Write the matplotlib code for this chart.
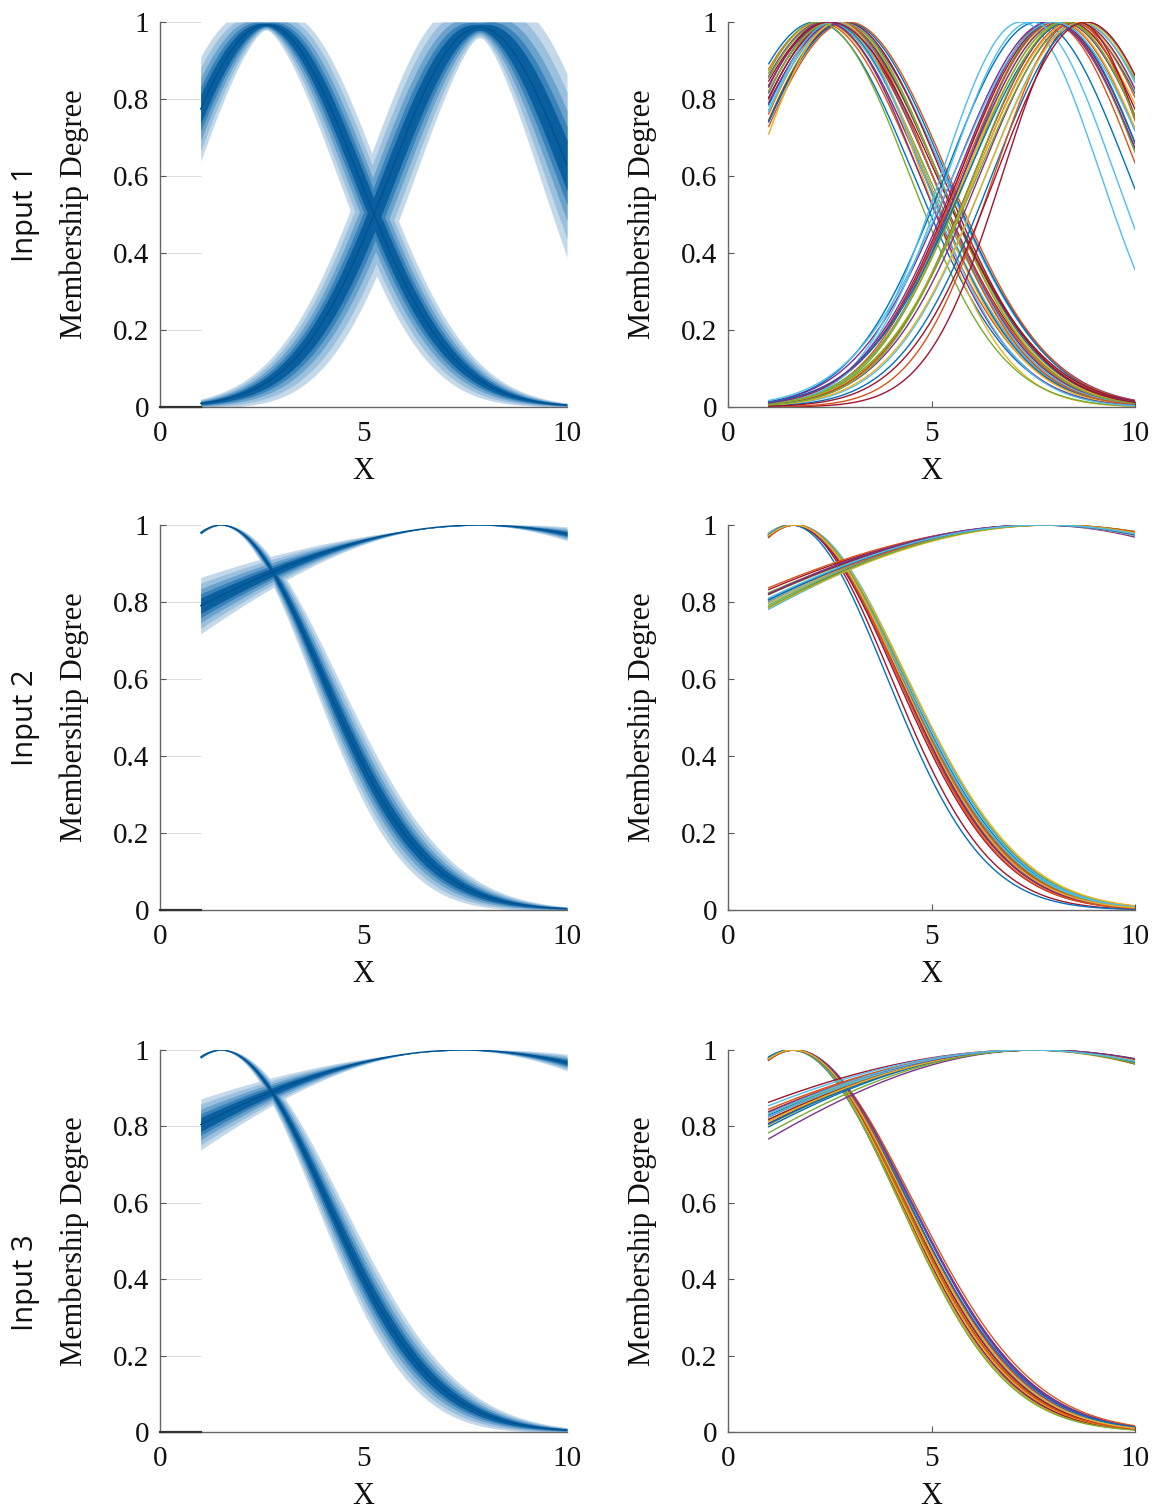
import numpy as np
import matplotlib
matplotlib.use("Agg")
import matplotlib.pyplot as plt

# ---------------- data: gaussian membership functions (center, sigma) ----------------
# left column: samples behind the fan bands (mean +/- k*std)
L1_mf1_c = [2.15, 2.25, 2.35, 2.45, 2.50, 2.60, 2.60, 2.70, 2.75, 2.85, 2.95, 3.05]
L1_mf1_s = [2.30, 2.15, 2.40, 2.20, 2.35, 2.10, 2.40, 2.25, 2.15, 2.35, 2.20, 2.25]
L1_mf2_c = [7.25, 7.40, 7.55, 7.65, 7.75, 7.85, 7.90, 8.00, 8.10, 8.25, 8.35, 8.50]
L1_mf2_s = [2.15, 2.00, 2.35, 2.05, 2.35, 2.10, 2.30, 2.05, 2.45, 2.15, 2.40, 2.30]

L2_mf1_c = [1.45, 1.50, 1.55, 1.48, 1.52, 1.50, 1.47, 1.53, 1.50, 1.55, 1.45, 1.50]
L2_mf1_s = [2.25, 2.30, 2.35, 2.45, 2.50, 2.50, 2.55, 2.65, 2.70, 2.75, 2.45, 2.55]
L2_mf2_c = [7.60, 7.70, 7.80, 7.85, 7.90, 7.90, 7.95, 8.00, 8.10, 8.20, 7.75, 8.05]
L2_mf2_s = [8.0, 8.6, 9.2, 9.7, 10.1, 10.3, 10.5, 11.0, 11.6, 12.4, 9.9, 11.1]

L3_mf1_c = [1.45, 1.50, 1.55, 1.48, 1.52, 1.50, 1.47, 1.53, 1.50, 1.55, 1.45, 1.50]
L3_mf1_s = [2.35, 2.40, 2.45, 2.55, 2.60, 2.60, 2.65, 2.75, 2.80, 2.85, 2.55, 2.65]
L3_mf2_c = [7.25, 7.35, 7.40, 7.45, 7.50, 7.50, 7.55, 7.60, 7.65, 7.75, 7.40, 7.60]
L3_mf2_s = [8.0, 8.5, 9.0, 9.5, 9.9, 10.1, 10.3, 10.8, 11.4, 12.2, 9.7, 10.6]

# right column: individual sampled membership functions
R1_mf1_c = [2.15, 2.25, 2.30, 2.35, 2.40, 2.45, 2.50, 2.50, 2.55, 2.55, 2.60, 2.60, 2.65, 2.65,
            2.70, 2.70, 2.75, 2.75, 2.80, 2.80, 2.85, 2.90, 2.95, 2.70, 2.40, 2.20, 2.60, 2.50]
R1_mf1_s = [2.40, 2.45, 2.50, 2.45, 2.50, 2.40, 2.50, 2.35, 2.45, 2.30, 2.40, 2.55, 2.35, 2.50,
            2.45, 2.30, 2.40, 2.55, 2.35, 2.50, 2.40, 2.45, 2.45, 2.05, 2.30, 2.25, 2.20, 2.60]
R1_mf2_c = [7.60, 7.90, 8.30, 7.90, 8.00, 7.20, 8.00, 8.05, 8.10, 8.15, 8.20, 8.25, 7.45, 8.35,
            8.40, 8.45, 8.50, 8.55, 8.60, 8.65, 8.60, 8.75, 8.50, 8.70, 7.95, 8.30, 8.00, 8.80]
R1_mf2_s = [2.25, 2.20, 2.45, 2.35, 2.20, 1.95, 2.30, 2.25, 2.35, 2.30, 2.40, 2.35, 2.05, 2.30,
            2.50, 2.35, 2.40, 2.35, 2.45, 2.30, 1.85, 2.25, 1.95, 2.35, 2.30, 2.25, 2.45, 2.20]

R2_mf1_c = [1.55, 1.57, 1.60, 1.62, 1.58, 1.63, 1.65, 1.59, 1.61, 1.56, 1.64, 1.60,
            1.67, 1.58, 1.62, 1.65, 1.59, 1.61, 1.63, 1.57, 1.60, 1.55, 1.65, 1.62]
R2_mf1_s = [2.65, 2.60, 2.70, 2.75, 2.63, 2.67, 2.57, 2.73, 2.65, 2.69, 2.61, 2.77,
            2.71, 2.55, 2.66, 2.64, 2.80, 2.59, 2.68, 2.72, 2.40, 2.35, 2.53, 2.62]
R2_mf2_c = [7.60, 7.70, 7.75, 7.80, 7.85, 7.90, 7.65, 7.80, 7.95, 7.70, 7.85, 7.75,
            8.00, 7.80, 7.60, 7.90, 7.75, 7.85, 7.70, 7.80, 7.95, 7.65, 7.85, 7.75]
R2_mf2_s = [9.5, 9.8, 10.0, 10.2, 10.4, 10.6, 9.9, 10.8, 11.0, 10.1, 11.3, 10.3,
            10.7, 9.7, 10.5, 11.1, 9.6, 10.9, 10.2, 11.4, 10.0, 10.6, 9.9, 10.4]

R3_mf1_c = [1.55, 1.58, 1.60, 1.62, 1.57, 1.65, 1.60, 1.56, 1.63, 1.59, 1.61, 1.54,
            1.66, 1.58, 1.60, 1.62, 1.56, 1.64, 1.59, 1.57, 1.61, 1.55, 1.63, 1.60]
R3_mf1_s = [2.65, 2.70, 2.75, 2.80, 2.72, 2.85, 2.68, 2.90, 2.78, 2.62, 2.88, 2.74,
            2.82, 2.66, 2.76, 2.92, 2.70, 2.84, 2.60, 2.79, 2.73, 2.86, 2.69, 2.77]
R3_mf2_c = [7.40, 7.45, 7.50, 7.55, 7.60, 7.50, 7.35, 7.45, 7.65, 7.55, 7.40, 7.50,
            7.60, 7.45, 7.55, 7.50, 7.40, 7.65, 7.50, 7.45, 7.55, 7.60, 7.50, 7.40]
R3_mf2_s = [9.8, 10.2, 10.5, 10.0, 10.8, 11.2, 9.6, 10.4, 11.0, 10.6, 11.8, 9.9,
            10.3, 10.7, 9.0, 10.1, 11.4, 10.5, 9.7, 10.9, 10.2, 11.1, 9.3, 10.6]

inputs = ['Input 1', 'Input 2', 'Input 3']
left_sets = [[(L1_mf1_c, L1_mf1_s), (L1_mf2_c, L1_mf2_s)],
             [(L2_mf1_c, L2_mf1_s), (L2_mf2_c, L2_mf2_s)],
             [(L3_mf1_c, L3_mf1_s), (L3_mf2_c, L3_mf2_s)]]
right_sets = [[(R1_mf1_c, R1_mf1_s), (R1_mf2_c, R1_mf2_s)],
              [(R2_mf1_c, R2_mf1_s), (R2_mf2_c, R2_mf2_s)],
              [(R3_mf1_c, R3_mf1_s), (R3_mf2_c, R3_mf2_s)]]

fan_k = [2.0, 1.6, 1.2, 0.85, 0.55]
fan_colors = ['#c3d9ea', '#9ac0dd', '#6aa2cc', '#3a82ba', '#0a5f9f']
matlab_colors = ['#0072BD', '#D95319', '#EDB120', '#7E2F8E', '#77AC30', '#4DBEEE', '#A2142F']

serif = 'Liberation Serif'
x = np.linspace(1, 10, 400)


def gauss(c, s):
    return np.exp(-(x - c) ** 2 / (2 * s ** 2))


fig = plt.figure(figsize=(11.55, 15.11), dpi=100)
W, H = 1155, 1511
rows = [(22, 407), (525, 910), (1050, 1432)]
cols = [160, 728]
axw = 407


def style(ax, left):
    ax.set_xlim(0, 10)
    ax.set_ylim(0, 1)
    ax.set_xticks([0, 5, 10])
    ax.set_yticks([0, 0.2, 0.4, 0.6, 0.8, 1])
    ax.set_yticklabels(['0', '0.2', '0.4', '0.6', '0.8', '1'])
    for sp in ['top', 'right']:
        ax.spines[sp].set_visible(False)
    for sp in ['left', 'bottom']:
        ax.spines[sp].set_color('#666666')
        ax.spines[sp].set_linewidth(1.0)
    ax.tick_params(axis='both', direction='in', labelsize=21, colors='#555555',
                   labelcolor='#111111', length=4, width=0.8)
    ax.tick_params(axis='x', pad=10)
    ax.tick_params(axis='y', pad=8)
    if left:
        ax.tick_params(axis='x', length=0)
    for lab in ax.get_xticklabels() + ax.get_yticklabels():
        lab.set_family(serif)
    ax.set_ylabel('Membership Degree', fontsize=22, family=serif, color='#111111')
    ax.set_xlabel('X', fontsize=22, family=serif, color='#111111')
    ax.yaxis.set_label_coords(-0.175, 0.5)
    ax.xaxis.set_label_coords(0.5, -0.13)
    ax.xaxis.label.set_va('top')


for r, (top, bot) in enumerate(rows):
    for cidx, x0 in enumerate(cols):
        ax = fig.add_axes([x0 / W, 1 - bot / H, axw / W, (bot - top) / H])
        if cidx == 0:
            curves = []
            for cs, ss in left_sets[r]:
                ys = np.array([gauss(c, s) for c, s in zip(cs, ss)])
                curves.append((ys.mean(axis=0), ys.std(axis=0)))
            for k, col in zip(fan_k, fan_colors):
                for m, sd in curves:
                    ax.fill_between(x, np.clip(m - k * sd, 0, 1), np.clip(m + k * sd, 0, 1),
                                    color=col, lw=0)
            for m, sd in curves:
                ax.plot(x, m, color='#005291', lw=1.0)
            ax.hlines([0.2, 0.4, 0.6, 0.8, 1.0], 0, 1, color='#dddddd', lw=0.8, zorder=0)
            ax.plot([0, 1], [0, 0], color='#333333', lw=1.6, clip_on=False, zorder=5)
        else:
            i = 0
            for cs, ss in right_sets[r]:
                for c, s in zip(cs, ss):
                    ax.plot(x, gauss(c, s), color=matlab_colors[i % 7], lw=1.0)
                    i += 1
        style(ax, cidx == 0)

label_y = [214, 718, 1283]
for name, yy in zip(inputs, label_y):
    fig.text(25 / W, 1 - yy / H, name, rotation=90, ha='center', va='center',
             fontsize=21, family='Open Sans', color='#111111')

fig.savefig('out.png', dpi=100)
